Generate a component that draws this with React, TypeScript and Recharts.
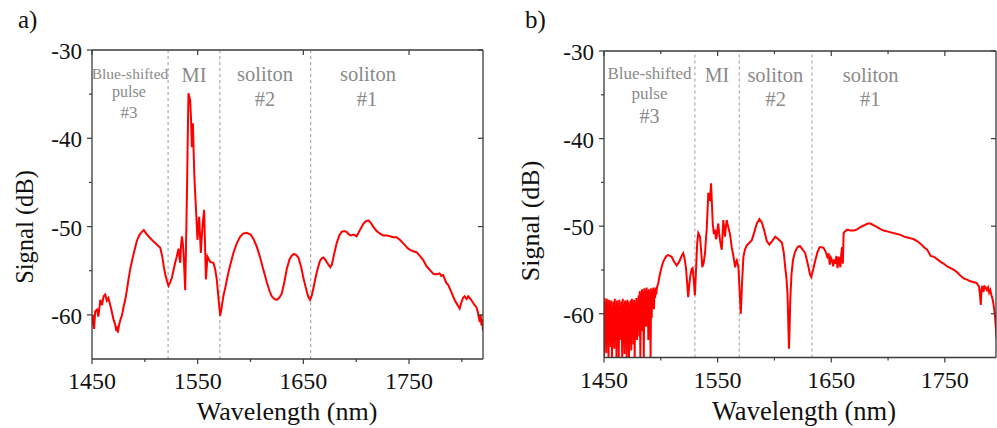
import React from "react";
import { Line, LineChart, ReferenceLine, XAxis, YAxis } from "recharts";

// panel a) spectrum
const leftWavelength = [
  1450, 1451, 1452, 1453, 1454.7, 1456, 1457.9, 1459.5, 1461, 1462.6, 1464, 1465.5, 1467.3, 1469,
  1470.5, 1472, 1473, 1473.6, 1474.5, 1475.5, 1476.8, 1478.5, 1480, 1481.5, 1483, 1484.5, 1486.2,
  1488, 1490, 1492.5, 1495, 1497.2, 1499, 1502, 1505, 1508.3, 1511, 1514.6, 1516.5, 1518, 1519.3,
  1521, 1522.4, 1524, 1525.6, 1527, 1528.7, 1530, 1531.9, 1532.8, 1533.5, 1534.2, 1535.1, 1536,
  1536.6, 1537.4, 1538.2, 1539, 1539.8, 1540.6, 1541.3, 1542.1, 1542.9, 1543.7, 1544.5, 1545.5,
  1546.3, 1547, 1548.6, 1549.8, 1551.4, 1553, 1554.5, 1556.1, 1557.8, 1559.3, 1561.8, 1564.9,
  1566.5, 1568.1, 1570, 1571.3, 1572.5, 1574.4, 1576, 1578.5, 1580.7, 1584, 1587, 1590, 1593,
  1596.5, 1600, 1602.8, 1606, 1609.1, 1612, 1615.4, 1618, 1620.1, 1622.5, 1624.8, 1627, 1629.5,
  1632, 1634.3, 1637, 1639, 1641, 1643, 1645.3, 1648, 1650, 1652.5, 1654.5, 1656.3, 1658, 1660,
  1661.5, 1663.5, 1665.7, 1667.5, 1669, 1671, 1673.6, 1675.5, 1677, 1679, 1681.5, 1684, 1686.2,
  1688.5, 1690.9, 1693, 1695, 1697.5, 1700.4, 1703.5, 1706.7, 1709, 1711.5, 1714, 1716, 1719.3,
  1722.5, 1725.6, 1729, 1732, 1735, 1738.3, 1741.3, 1744.5, 1747.6, 1749.2, 1752, 1754, 1757.1,
  1760, 1763.4, 1766.6, 1769.7, 1772.6, 1774, 1776, 1779, 1780.5, 1782.3, 1784, 1785.4, 1787,
  1788.5, 1790, 1791.7, 1793.5, 1795, 1796.5, 1797.9, 1799.5, 1801, 1802.6, 1804.5, 1806, 1808.8,
  1810.5, 1812, 1813.6, 1815, 1816, 1817, 1817.8, 1818.5, 1819.2, 1820,
];
const leftSignal = [
  -61.2, -60.0, -61.6, -59.6, -59.4, -60.2, -58.3, -58.9, -57.9, -57.7, -58.4, -58.1, -58.9, -59.8,
  -60.6, -61.1, -61.8, -61.3, -62.0, -61.2, -60.6, -60.0, -59.0, -58.3, -57.2, -56.0, -54.8,
  -53.8, -52.8, -51.6, -50.9, -50.6, -50.4, -50.9, -51.3, -51.7, -52.0, -52.4, -53.4, -54.6, -55.4,
  -56.2, -56.7, -56.3, -55.8, -55.0, -54.1, -53.5, -52.5, -53.6, -54.1, -52.2, -51.1, -52.0,
  -53.0, -55.0, -57.2, -52.0, -46.6, -40.0, -34.9, -35.3, -35.7, -37.8, -41.0, -38.3,
  -42.0, -44.7, -48.5, -51.5, -48.9, -53.0, -50.0, -48.1, -56.0, -53.4, -54.0, -54.1,
  -54.8, -56.0, -58.5, -60.1, -59.3, -57.8, -57.0, -55.5, -54.4, -52.9, -51.9, -51.2, -50.8,
  -50.7, -50.9, -51.4, -52.3, -53.5, -54.8, -56.3, -57.3, -57.9, -58.2, -58.3, -58.1, -57.6,
  -56.3, -54.8, -53.7, -53.3, -53.1, -53.2, -53.5, -54.6, -55.8, -57.0, -57.9, -58.3, -57.8, -56.7,
  -55.8, -54.8, -53.9, -53.6, -53.5, -53.8, -54.3, -54.6, -54.3, -53.2, -51.9, -51.0, -50.6,
  -50.5, -50.6, -50.9, -51.0, -50.9, -51.1, -50.4, -49.7, -49.4, -49.3, -49.6, -50.0, -50.5,
  -50.8, -51.0, -51.0, -51.1, -51.2, -51.2, -51.5, -51.9, -52.3, -52.5, -52.7, -52.8, -52.9,
  -53.3, -53.8, -54.5, -54.9, -55.3, -55.4, -55.4, -55.3, -55.6, -55.5, -56.0, -56.4, -56.6,
  -57.0, -57.4, -57.9, -58.4, -58.7, -59.0, -59.3, -58.6, -58.1, -57.9, -58.2, -57.9, -58.3,
  -58.6, -58.9, -59.1, -59.6, -60.3, -60.8, -60.0, -61.2, -60.5, -61.8,
];

// panel b) spectrum
const rightWavelength = [
  1450, 1450.5, 1451, 1451.5, 1452, 1452.5, 1453, 1453.5, 1454, 1454.5, 1455, 1455.5, 1456, 1456.5,
  1457, 1457.5, 1458, 1458.5, 1459, 1459.5, 1460, 1460.5, 1461, 1461.5, 1462, 1462.5, 1463, 1463.5,
  1464, 1464.5, 1465, 1465.5, 1466, 1466.5, 1467, 1467.5, 1468, 1468.5, 1469, 1469.5, 1470, 1470.5,
  1471, 1471.5, 1472, 1472.5, 1473, 1473.5, 1474, 1474.5, 1475, 1475.5, 1476, 1476.5, 1477, 1477.5,
  1478, 1478.5, 1479, 1479.5, 1480, 1480.5, 1481, 1481.5, 1482, 1482.5, 1483, 1483.5, 1484, 1484.5,
  1485, 1485.5, 1486, 1486.5, 1487, 1487.5, 1488, 1488.5, 1489, 1489.5, 1490, 1490.5, 1491, 1491.5,
  1492, 1492.5, 1493, 1493.5, 1494, 1494.5, 1495, 1495.5, 1496, 1496.5, 1497,
  1497.7, 1499, 1500.7, 1502, 1503.6, 1505, 1506.5, 1508, 1509.5, 1511.5, 1513.9, 1515.5, 1516.8,
  1518.3, 1519.7, 1520.8, 1522.1, 1523.2, 1524.1, 1525.2, 1526.3, 1527.2, 1528, 1529, 1530, 1531,
  1532, 1533, 1534.5, 1535.5, 1536.5, 1537.7, 1538.9, 1539.7, 1540.4, 1541.2, 1541.8, 1542.5,
  1543.3, 1544.2, 1545, 1545.7, 1546.7, 1547.7, 1548.5, 1549.2, 1550, 1550.6, 1551.3, 1552.1, 1553,
  1553.6, 1554.3, 1555, 1555.8, 1556.5, 1557.3, 1558, 1558.7, 1559.4, 1561, 1562.4, 1564, 1565.4,
  1566.2, 1566.9, 1567.6, 1568.3, 1569.4, 1570.4, 1571.5, 1572.7, 1574, 1575.7, 1578, 1580.1,
  1582.5, 1584.5, 1586.8, 1589, 1591, 1593.3, 1595.5, 1598, 1600.7, 1603.5, 1606.6, 1608.2, 1609.5,
  1610.6, 1611.5, 1612.2, 1612.8, 1613.4, 1613.9, 1615, 1616.3, 1618, 1619.8, 1621.3, 1622.7, 1625,
  1627.1, 1628.6, 1630, 1631.3, 1632.4, 1634, 1636, 1637.8, 1639.8, 1641.5, 1643.3, 1645, 1646.5,
  1647.7, 1648.7, 1649.7, 1650.7, 1651.7, 1652.6, 1653.6, 1654.5, 1655.5, 1656.5, 1657.3, 1658,
  1658.8, 1659.5, 1660.2, 1660.9, 1662, 1663.9, 1666.5, 1669.8, 1672.5, 1675.7, 1679, 1682, 1684.5,
  1687.5, 1690.4, 1693, 1696, 1699.3, 1702, 1705, 1708, 1711, 1714, 1717, 1720, 1722.7, 1725.5,
  1728.5, 1731.6, 1734.5, 1737.5, 1740.4, 1743.5, 1746.5, 1749.2, 1752, 1755, 1758, 1761, 1764,
  1766.9, 1769.5, 1772.5, 1775.7, 1778, 1780.1, 1781, 1781.6, 1782.3, 1783, 1784, 1785, 1786,
  1787, 1788, 1789, 1790, 1791, 1791.9, 1792.8, 1793.5, 1794.2, 1794.8, 1795.4,
];
const rightSignal = [
  -65, -58.2, -62, -58.6, -64.5, -58.3, -60.5, -58.9, -65, -58.4, -61.5, -58.7, -63.8, -58.5,
  -65, -59.2, -61, -58.6, -64, -58.3, -62.5, -59, -65, -58.5, -60.8, -58.8, -65, -58.4,
  -63, -59.1, -61.2, -58.6, -65, -58.3, -62.2, -58.9, -64.6, -58.5, -60.3, -58.7, -65, -58.4,
  -62.8, -58.6, -65, -59, -61.4, -58.5, -64.2, -58.3, -60.6, -58.8, -63.5, -58.4, -65, -58.6,
  -61.8, -58.2, -63, -58.5, -60.2, -57.9, -62.6, -57.4, -65, -57.6, -60.4, -57.2, -62, -57.5,
  -65, -57.1, -59.8, -57.3, -61.5, -57, -60, -57.4, -63, -57.2, -59.2, -57.5, -65, -57.1,
  -60.5, -57.3, -58.8, -57.0, -59.5, -57.2, -58.2, -57.0, -57.8, -57.1, -56.8,
  -56.6, -55.6, -54.7, -54.1, -53.7, -53.4, -53.3, -53.4, -53.5, -54.0, -54.5, -54.2, -53.9,
  -53.4, -53.1, -53.6, -54.7, -56.5, -58.1, -56.5, -55.4, -54.9, -54.8, -56.2, -57.9, -55.0,
  -52.0, -50.8, -51.2, -52.8, -54.7, -54.2, -53.1, -51.5, -50.4, -48.0, -46.2, -46.9,
  -47.0, -45.1, -47.5, -49.7, -50.9, -50.4, -51.5, -51.2, -50.2, -49.7, -50.8, -51.6, -52.3,
  -52.7, -51.0, -49.3, -50.4, -51.2, -50.0, -49.3, -49.8, -50.1, -51.0, -52.4, -53.5, -54.7,
  -54.1, -53.9, -54.3, -54.7, -57.5, -60.0, -56.5, -53.5, -52.7, -52.2, -51.9, -51.6,
  -50.6, -49.7, -49.2, -49.6, -50.5, -51.7, -52.1, -51.7, -51.2, -51.5, -51.9, -53.0, -54.7,
  -56.0, -57.7, -61.0, -64.0, -61.5, -58.5, -55.5, -53.9, -53.0, -52.5, -52.3, -52.3, -52.7,
  -53.1, -53.9, -54.7, -55.5, -55.8, -55.0, -53.9, -53.0, -52.4, -52.4, -52.5, -52.9, -53.5,
  -53.1, -54.4, -53.6, -53.9, -54.6, -53.8, -54.3, -53.4, -54.8, -53.5, -54.0, -54.7,
  -53.2, -52.4, -54.3, -50.8, -50.6, -50.4, -50.5, -50.5, -50.4, -50.1, -49.9, -49.7, -49.7,
  -49.9, -50.1, -50.3, -50.5, -50.6, -50.7, -50.8, -50.9, -51.0, -51.2, -51.3, -51.4, -51.5, -51.7,
  -52.0, -52.4, -52.7, -53.4, -53.5, -53.8, -54.1, -54.3, -54.6, -54.8, -55.0, -55.3, -55.7,
  -56.0, -56.1, -56.3, -56.4, -56.5, -56.9, -58.0, -59.0, -57.2, -56.8, -57.5, -56.9, -57.0,
  -57.3, -57.0, -57.6, -57.3, -57.9, -58.3, -58.9, -59.6, -60.4, -61.5, -62.8,
];

const xTicks = [1450, 1500, 1550, 1600, 1650, 1700, 1750, 1800];
const xMajorTicks = [1450, 1550, 1650, 1750];
const yTicks = [-60, -55, -50, -45, -40, -35, -30];
const yMajorTicks = [-60, -50, -40, -30];
const leftDividers = [1522, 1571, 1657];
const rightDividers = [1530, 1569, 1633];

const AXIS = "#3a3a3a";
const INK = "#111";
const NOTE = "#8a8a8a";
const SERIF = "Liberation Serif, DejaVu Serif, serif";

const leftData = leftWavelength.map((w, i) => ({ w, s: leftSignal[i] }));
const rightData = rightWavelength.map((w, i) => ({ w, s: rightSignal[i] }));

function BottomTick(props: any) {
  const { x, y, payload } = props;
  const major = xMajorTicks.includes(payload.value);
  return (
    <g>
      <line x1={x} x2={x} y1={y} y2={y + (major ? 5 : 3)} stroke={AXIS} strokeWidth={1.2} />
      {major && (
        <text x={x} y={y + 30} textAnchor="middle" fontFamily={SERIF} fontSize={24} fill={INK}>
          {payload.value}
        </text>
      )}
    </g>
  );
}

function TopTick(props: any) {
  const { x, y, payload } = props;
  const major = xMajorTicks.includes(payload.value);
  return <line x1={x} x2={x} y1={y} y2={y + (major ? 5 : 3)} stroke={AXIS} strokeWidth={1.2} />;
}

function LeftTick(props: any) {
  const { x, y, payload } = props;
  const major = yMajorTicks.includes(payload.value);
  return (
    <g>
      <line x1={x - (major ? 5 : 3)} x2={x} y1={y} y2={y} stroke={AXIS} strokeWidth={1.2} />
      {major && (
        <text x={x - 10} y={y + 9} textAnchor="end" fontFamily={SERIF} fontSize={23} fill={INK}>
          {payload.value}
        </text>
      )}
    </g>
  );
}

function RightTick(props: any) {
  const { x, y } = props;
  return <line x1={x - 5} x2={x} y1={y} y2={y} stroke={AXIS} strokeWidth={1.2} />;
}

interface PanelProps {
  data: { w: number; s: number }[];
  xMax: number;
  dividers: number[];
  topTicks: number[];
  width: number;
  margin: { top: number; right: number; bottom: number; left: number };
}

function SpectrumPanel({ data, xMax, dividers, topTicks, width, margin }: PanelProps) {
  return (
    <LineChart width={width} height={428} data={data} margin={margin}>
      <XAxis
        xAxisId="bottom"
        dataKey="w"
        type="number"
        domain={[1450, xMax]}
        allowDataOverflow
        ticks={xTicks}
        interval={0}
        height={50}
        tickSize={0}
        tickMargin={0}
        tickLine={false}
        tick={BottomTick}
        axisLine={{ stroke: AXIS, strokeWidth: 1.3 }}
      />
      <XAxis
        xAxisId="top"
        orientation="top"
        dataKey="w"
        type="number"
        domain={[1450, xMax]}
        allowDataOverflow
        ticks={topTicks}
        interval={0}
        height={10}
        tickSize={0}
        tickMargin={0}
        tickLine={false}
        tick={TopTick}
        axisLine={{ stroke: AXIS, strokeWidth: 1.3 }}
      />
      <YAxis
        yAxisId="left"
        type="number"
        domain={[-65, -30]}
        allowDataOverflow
        ticks={yTicks}
        interval={0}
        width={60}
        tickSize={0}
        tickMargin={0}
        tickLine={false}
        tick={LeftTick}
        axisLine={{ stroke: AXIS, strokeWidth: 1.3 }}
      />
      <YAxis
        yAxisId="right"
        orientation="right"
        type="number"
        domain={[-65, -30]}
        allowDataOverflow
        ticks={yMajorTicks}
        interval={0}
        width={1}
        tickSize={0}
        tickMargin={0}
        tickLine={false}
        tick={RightTick}
        axisLine={{ stroke: AXIS, strokeWidth: 1.3 }}
      />
      {dividers.map((d) => (
        <ReferenceLine
          key={d}
          x={d}
          xAxisId="bottom"
          yAxisId="left"
          stroke="#9a9a9a"
          strokeWidth={1}
          strokeDasharray="3 3"
        />
      ))}
      <Line
        xAxisId="bottom"
        yAxisId="left"
        dataKey="s"
        type="linear"
        stroke="#ff0000"
        strokeWidth={2}
        dot={false}
        activeDot={false}
        isAnimationActive={false}
      />
    </LineChart>
  );
}

function Note({ x, y, size, children }: { x: number; y: number; size: number; children: string }) {
  return (
    <text x={x} y={y} textAnchor="middle" fontFamily={SERIF} fontSize={size} fill={NOTE}>
      {children}
    </text>
  );
}

function Title({ x, y, size, rotate, children }: { x: number; y: number; size: number; rotate?: boolean; children: string }) {
  return (
    <text
      transform={`translate(${x},${y})${rotate ? " rotate(-90)" : ""}`}
      textAnchor="middle"
      fontFamily={SERIF}
      fontSize={size}
      fill={INK}
    >
      {children}
    </text>
  );
}

export default function App() {
  return (
    <div
      style={{
        position: "absolute",
        left: 0,
        top: 0,
        width: 997,
        height: 428,
        background: "#fff",
        overflow: "hidden",
        fontFamily: SERIF,
      }}
    >
      <div style={{ position: "absolute", left: 0, top: 0 }}>
        <SpectrumPanel
          data={leftData}
          xMax={1820}
          dividers={leftDividers}
          topTicks={xMajorTicks}
          width={500}
          margin={{ top: 40, right: 16, bottom: 19, left: 32 }}
        />
      </div>
      <div style={{ position: "absolute", left: 500, top: 0 }}>
        <SpectrumPanel
          data={rightData}
          xMax={1795}
          dividers={rightDividers}
          topTicks={xTicks}
          width={497}
          margin={{ top: 41, right: 0, bottom: 20.5, left: 44 }}
        />
      </div>
      <svg
        width={997}
        height={428}
        style={{ position: "absolute", left: 0, top: 0, pointerEvents: "none" }}
      >
        <text x={18} y={28} fontFamily={SERIF} fontSize={25} fill={INK}>a)</text>
        <text x={525} y={28} fontFamily={SERIF} fontSize={25} fill={INK}>b)</text>
        <Title x={287} y={420} size={26}>Wavelength (nm)</Title>
        <Title x={804} y={420} size={26.5}>Wavelength (nm)</Title>
        <Title x={33} y={227} size={24.5} rotate>Signal (dB)</Title>
        <Title x={539} y={221} size={26} rotate>Signal (dB)</Title>

        <Note x={130} y={79} size={15.5}>Blue-shifted</Note>
        <Note x={129} y={97} size={16}>pulse</Note>
        <Note x={129} y={118} size={17}>#3</Note>
        <Note x={194} y={81.5} size={20.5}>MI</Note>
        <Note x={265} y={81} size={20.5}>soliton</Note>
        <Note x={265} y={106} size={20.5}>#2</Note>
        <Note x={368} y={81} size={20.5}>soliton</Note>
        <Note x={367} y={106} size={20.5}>#1</Note>

        <Note x={649.5} y={79} size={17}>Blue-shifted</Note>
        <Note x={649.5} y={99} size={17}>pulse</Note>
        <Note x={649.5} y={122.5} size={20}>#3</Note>
        <Note x={717} y={81.5} size={20}>MI</Note>
        <Note x={775.3} y={81.5} size={20.5}>soliton</Note>
        <Note x={775.8} y={106} size={20.5}>#2</Note>
        <Note x={870.7} y={82} size={20.5}>soliton</Note>
        <Note x={870.3} y={106} size={20.5}>#1</Note>
      </svg>
    </div>
  );
}
